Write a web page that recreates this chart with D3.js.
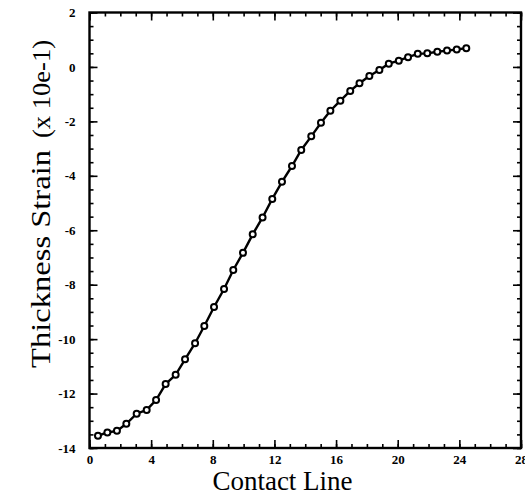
<!DOCTYPE html>
<html>
<head>
<meta charset="utf-8">
<script src="https://cdn.jsdelivr.net/npm/d3@7"></script>
<style>
  body { margin: 0; background: #fff; }
  svg { display: block; }
  .ticklab text { font-family: "Liberation Serif", "Times New Roman", serif; font-weight: bold; font-size: 13px; }
</style>
</head>
<body>
<script>
// contact line position (x) and thickness strain x 10e-1 (y)
var contactLine = [0.55, 1.16, 1.78, 2.39, 3.06, 3.71, 4.32, 4.94, 5.59, 6.20,
    6.85, 7.45, 8.08, 8.73, 9.33, 9.96, 10.59, 11.23, 11.86, 12.49,
    13.14, 13.74, 14.39, 15.02, 15.63, 16.28, 16.92, 17.52, 18.16, 18.81,
    19.42, 20.07, 20.67, 21.30, 21.92, 22.57, 23.20, 23.83, 24.45];
var strain = [-13.55, -13.43, -13.37, -13.11, -12.74, -12.60, -12.24, -11.65, -11.31, -10.74,
    -10.15, -9.52, -8.82, -8.16, -7.46, -6.83, -6.15, -5.53, -4.85, -4.22,
    -3.64, -3.05, -2.55, -2.05, -1.61, -1.24, -0.88, -0.60, -0.33, -0.11,
    0.12, 0.23, 0.36, 0.48, 0.50, 0.56, 0.60, 0.64, 0.69];

var xTicks = [0, 4, 8, 12, 16, 20, 24, 28];
var yTicks = [2, 0, -2, -4, -6, -8, -10, -12, -14];

var svgWidth = 525;
var svgHeight = 496;

var margin = {top: 12.5, right: 4, bottom: 48, left: 89.5};
var chartwidth = svgWidth - margin.left - margin.right;
var chartheight = svgHeight - margin.top - margin.bottom;

var svg = d3.select("body")
    .append("svg")
    .attr("width", svgWidth)
    .attr("height", svgHeight);

var chartgroup = svg.append("g")
    .attr("transform", `translate(${margin.left}, ${margin.top})`);

var x = d3.scaleLinear().domain([0, 28]).range([0, chartwidth]);
var y = d3.scaleLinear().domain([-14, 2]).range([chartheight, 0]);

var data = contactLine.map(function(d, i) { return {x: d, y: strain[i]}; });

// minor ticks (every 1 on x, every 0.5 on y), pointing inward on all four sides
var xMinor = d3.range(0, 28.01, 1);
var yMinor = d3.range(-14, 2.01, 0.5);

function styleAxis(g) {
    g.select(".domain").remove();
    g.selectAll("line").attr("stroke", "#000").attr("stroke-width", 1.6);
}

chartgroup.append("g").attr("transform", `translate(0, ${chartheight})`)
    .call(d3.axisBottom(x).tickValues(xMinor).tickSize(-4).tickFormat(""))
    .call(styleAxis);
chartgroup.append("g")
    .call(d3.axisTop(x).tickValues(xMinor).tickSize(-4).tickFormat(""))
    .call(styleAxis);
chartgroup.append("g")
    .call(d3.axisLeft(y).tickValues(yMinor).tickSize(-4).tickFormat(""))
    .call(styleAxis);
chartgroup.append("g").attr("transform", `translate(${chartwidth}, 0)`)
    .call(d3.axisRight(y).tickValues(yMinor).tickSize(-4).tickFormat(""))
    .call(styleAxis);

// major ticks with labels
chartgroup.append("g").attr("class", "ticklab")
    .attr("transform", `translate(0, ${chartheight})`)
    .call(d3.axisBottom(x).tickValues(xTicks).tickSizeInner(-8).tickSizeOuter(0).tickPadding(7).tickFormat(d3.format("d")))
    .call(styleAxis);
chartgroup.append("g").attr("class", "ticklab")
    .call(d3.axisLeft(y).tickValues(yTicks).tickSizeInner(-8).tickSizeOuter(0).tickPadding(14).tickFormat(d3.format("d")))
    .call(styleAxis);
chartgroup.append("g")
    .call(d3.axisTop(x).tickValues(xTicks).tickSize(-8).tickFormat(""))
    .call(styleAxis);
chartgroup.append("g").attr("transform", `translate(${chartwidth}, 0)`)
    .call(d3.axisRight(y).tickValues(yTicks).tickSize(-8).tickFormat(""))
    .call(styleAxis);

chartgroup.selectAll(".ticklab text").attr("fill", "#000");
chartgroup.selectAll(".ticklab text").text(function(d) { return d < 0 ? "-" + Math.abs(d) : d; });

// frame
chartgroup.append("rect")
    .attr("width", chartwidth)
    .attr("height", chartheight)
    .attr("fill", "none")
    .attr("stroke", "#000")
    .attr("stroke-width", 2.4);

// the curve
var line = d3.line().x(d => x(d.x)).y(d => y(d.y));

chartgroup.append("path")
    .datum(data)
    .attr("d", line)
    .attr("fill", "none")
    .attr("stroke", "#000")
    .attr("stroke-width", 2.4);

chartgroup.selectAll("circle")
    .data(data)
    .enter()
    .append("circle")
    .attr("cx", d => x(d.x))
    .attr("cy", d => y(d.y))
    .attr("r", 3)
    .attr("fill", "#fff")
    .attr("stroke", "#000")
    .attr("stroke-width", 2);

// axis titles
svg.append("text")
    .attr("x", 282.5)
    .attr("y", 490)
    .attr("text-anchor", "middle")
    .style("font-family", "'Liberation Serif', 'Times New Roman', serif")
    .style("font-size", "27px")
    .text("Contact Line");

var ytitle = svg.append("g")
    .attr("transform", "translate(50, 0) rotate(-90)")
    .style("font-family", "'Liberation Serif', 'Times New Roman', serif");
ytitle.append("text")
    .attr("x", -368)
    .style("font-size", "28px")
    .attr("textLength", 218)
    .attr("lengthAdjust", "spacingAndGlyphs")
    .text("Thickness Strain");
ytitle.append("text")
    .attr("x", -138)
    .style("font-size", "26px")
    .attr("textLength", 98)
    .attr("lengthAdjust", "spacingAndGlyphs")
    .text("(x 10e-1)");
</script>
</body>
</html>
